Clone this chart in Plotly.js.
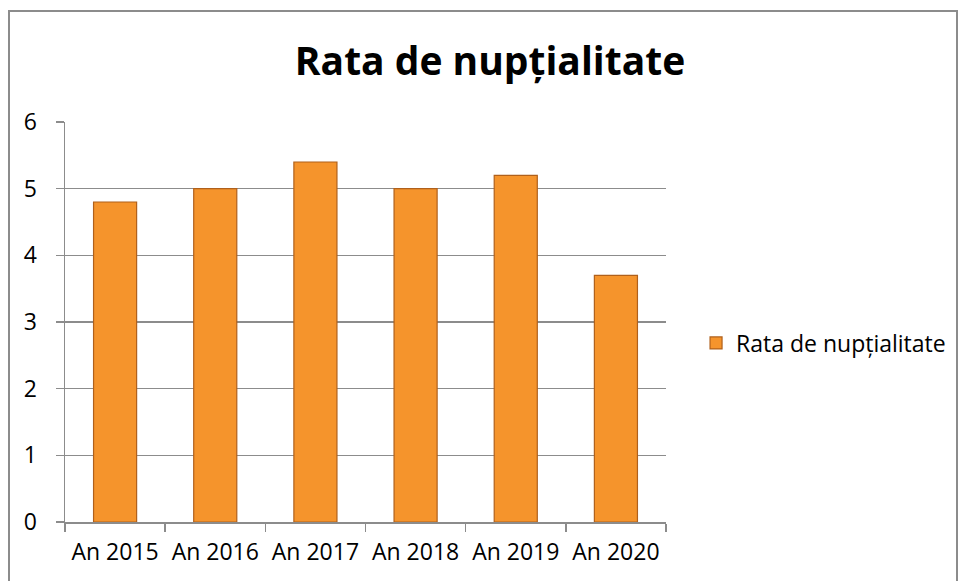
<!DOCTYPE html>
<html>
<head>
<meta charset="utf-8">
<script src="https://cdn.plot.ly/plotly-3.0.1.min.js"></script>
<style>
  html, body { margin: 0; padding: 0; background: #ffffff; }
  #wrap { position: relative; width: 958px; height: 581px; overflow: hidden; }
  #chart { width: 958px; height: 581px; }
  #frame { position: absolute; left: 8px; top: 10px; width: 946px; height: 620px; border: 2px solid #8c8c8c; pointer-events: none; }
</style>
</head>
<body>
<div id="wrap">
  <div id="chart"></div>
  <div id="frame"></div>
</div>
<script>
const categories = ["An 2015", "An 2016", "An 2017", "An 2018", "An 2019", "An 2020"];
const rataValues = [4.8, 5.0, 5.4, 5.0, 5.2, 3.7];
const seriesName = "Rata de nupțialitate";
const chartTitle = "Rata de nupțialitate";

const trace = {
  type: "bar",
  x: categories,
  y: rataValues,
  name: seriesName,
  showlegend: true,
  marker: {
    color: "#F5942C",
    line: { color: "#B0601B", width: 1.2 }
  },
  hoverinfo: "x+y"
};

const layout = {
  width: 958,
  height: 581,
  paper_bgcolor: "#ffffff",
  plot_bgcolor: "#ffffff",
  margin: { l: 65, r: 292, t: 122, b: 59, autoexpand: false },
  bargap: 0.57,
  title: {
    text: "<b>" + chartTitle + "</b>",
    font: { family: "Open Sans, sans-serif", size: 39, color: "#000000" },
    xref: "container", x: 0.5115, xanchor: "center",
    yref: "container", y: 0.895, yanchor: "middle"
  },
  font: { family: "Open Sans, sans-serif", size: 22, color: "#000000" },
  xaxis: {
    type: "category",
    automargin: false,
    showline: true, linecolor: "#8c8c8c", linewidth: 1.5,
    ticks: "outside", tickson: "boundaries", ticklen: 8, tickcolor: "#8c8c8c", tickwidth: 1.5,
    showgrid: false,
    ticklabelstandoff: 9,
    tickfont: { family: "Open Sans, sans-serif", size: 23, color: "#000000" }
  },
  yaxis: {
    range: [0, 6],
    dtick: 1,
    automargin: false,
    showline: true, linecolor: "#8c8c8c", linewidth: 1.5,
    ticks: "outside", ticklen: 8, tickcolor: "#8c8c8c", tickwidth: 1.5,
    showgrid: true, gridcolor: "#8c8c8c", gridwidth: 1.5,
    zeroline: false,
    ticklabelstandoff: 14,
    tickfont: { family: "Open Sans, sans-serif", size: 23, color: "#000000" }
  },
  legend: {
    x: 1.05, xanchor: "left",
    y: 0.4475, yanchor: "middle",
    font: { family: "Open Sans, sans-serif", size: 23, color: "#000000" },
    itemwidth: 30
  }
};

Plotly.newPlot("chart", [trace], layout, { displayModeBar: false, staticPlot: true });
</script>
</body>
</html>
